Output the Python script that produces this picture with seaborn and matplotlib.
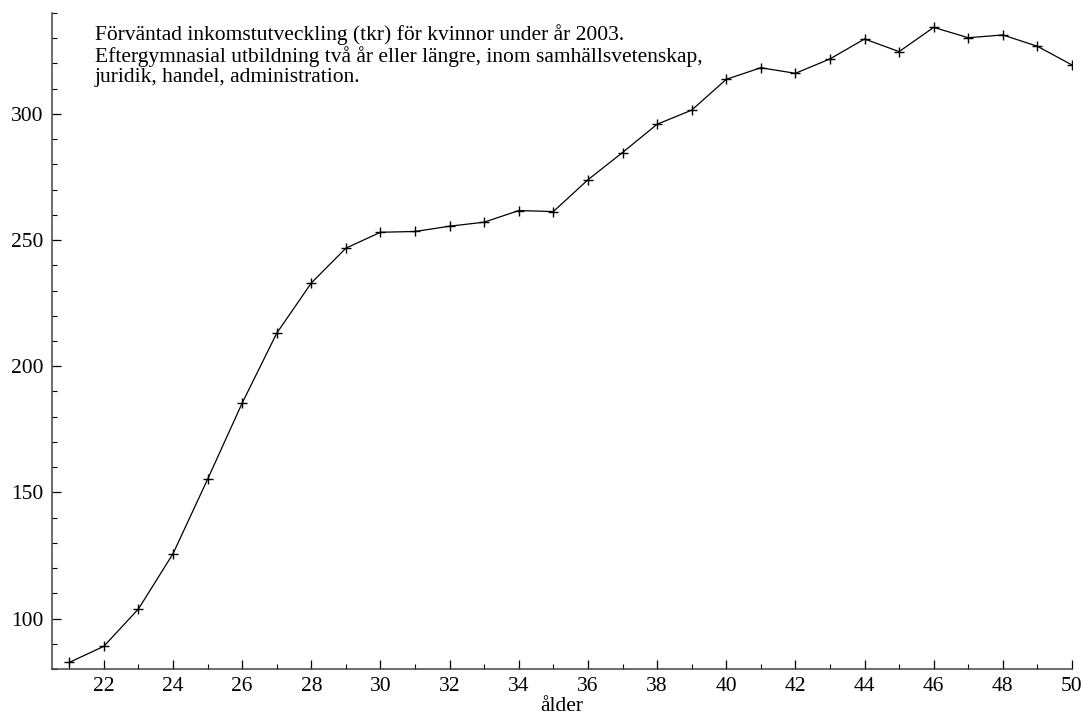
import matplotlib
matplotlib.use("Agg")
import matplotlib.pyplot as plt
from matplotlib.ticker import MultipleLocator
import numpy as np
import pandas as pd
import seaborn as sns

# Age (years)
alder = list(range(21, 51))
# Expected income (tkr)
inkomst = [82.6, 89.0, 103.8, 125.7, 155.2, 185.4, 213.1, 233.0, 246.8, 253.1,
           253.4, 255.5, 257.1, 261.7, 261.3, 273.9, 284.7, 295.9, 301.5, 313.7,
           318.3, 316.1, 321.8, 329.7, 324.7, 334.3, 330.2, 331.3, 326.8, 319.4]

rubrik = ("Förväntad inkomstutveckling (tkr) för kvinnor under år 2003.\n"
          "Eftergymnasial utbildning två år eller längre, inom samhällsvetenskap,\n"
          "juridik, handel, administration.")
x_etikett = "ålder"

sns.set_style("white")
plt.rcParams["font.family"] = ["Liberation Serif", "DejaVu Serif"]

df = pd.DataFrame({"alder": alder, "inkomst": inkomst})

fig = plt.figure(figsize=(10.87, 7.15), dpi=100)
ax = fig.add_axes([52 / 1087, 1 - 669 / 715, (1072 - 52) / 1087, (669 - 13) / 715])

sns.lineplot(data=df, x="alder", y="inkomst", ax=ax, color="black", linewidth=0.9,
             marker="+", markersize=7, markeredgewidth=1.0, markeredgecolor="black")

ax.set_xlim(20.5, 50)
ax.set_ylim(80, 340)
ax.xaxis.set_major_locator(MultipleLocator(2))
ax.xaxis.set_minor_locator(MultipleLocator(1))
ax.yaxis.set_major_locator(MultipleLocator(50))
ax.yaxis.set_minor_locator(MultipleLocator(10))
ax.set_xticks(np.arange(22, 51, 2))

for side in ("top", "right"):
    ax.spines[side].set_visible(False)
for side in ("left", "bottom"):
    ax.spines[side].set_color("#444444")
    ax.spines[side].set_linewidth(1.1)

ax.tick_params(axis="both", which="both", bottom=True, left=True, top=False, right=False)
ax.tick_params(axis="both", which="major", direction="in", length=6.5, width=0.9,
               labelsize=15.5, color="black", labelcolor="black")
ax.tick_params(axis="both", which="minor", direction="in", length=3.5, width=0.8,
               color="black")
ax.tick_params(axis="x", which="major", pad=6)
ax.tick_params(axis="y", which="major", pad=6)

ax.set_xlabel(x_etikett, fontsize=15.5, color="black", va="top")
ax.xaxis.set_label_coords(0.5, -0.042)
ax.set_ylabel("")

fig.text(95 / 1087, 1 - 24 / 715, rubrik, fontsize=15.5, va="top", ha="left",
         linespacing=1.06, color="black")

fig.savefig("out.png", dpi=100)
